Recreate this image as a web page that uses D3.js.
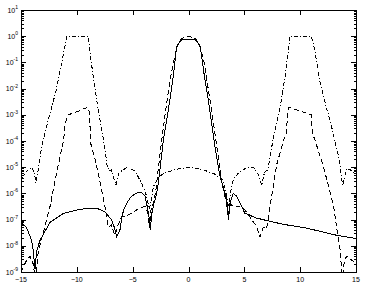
<!DOCTYPE html>
<html>
<head>
<meta charset="utf-8">
<script src="https://cdn.jsdelivr.net/npm/d3@7"></script>
<style>
body { margin: 0; background: #fff; }
svg { display: block; font-family: "Liberation Sans", Arial, sans-serif; }
</style>
</head>
<body>
<svg id="chart" width="369" height="289"></svg>
<script>
"use strict"

// tick values
let xTicks = [-15, -10, -5, 0, 5, 10, 15]
let yExponents = [1, 0, -1, -2, -3, -4, -5, -6, -7, -8, -9]

// solid curve
let solidX = [-15, -14.5, -14.05, -13.9, -13.75, -13.6, -13.3, -12.4, -11.2, -9.7, -8.2, -7.5, -6.9, -6.6, -6.43, -6.14, -6.0, -5.8, -5.5, -5.1, -4.6, -4.2, -3.9, -3.7, -3.5, -3.42, -3.3, -3.1, -2.85, -2.7, -2.26, -1.8, -1.37, -1.06, -0.7, -0.3, 0, 0.3, 0.7, 1.06, 1.4, 1.76, 2.36, 2.8, 3.2, 3.4, 3.56, 3.7, 4.0, 4.3, 4.76, 5.05, 5.45, 6, 7.45, 8.5, 10.6, 12, 13.3, 15]
let solidY = [7.9e-8, 5.0e-8, 1.6e-8, 6.3e-9, 1.26e-9, 6.3e-9, 1.6e-8, 7.9e-8, 1.74e-7, 2.5e-7, 2.7e-7, 2.0e-7, 1.0e-7, 4.5e-8, 2.2e-8, 4.0e-8, 1.0e-7, 2.5e-7, 4.5e-7, 7.9e-7, 1.05e-6, 1.07e-6, 7.9e-7, 3.2e-7, 1.0e-7, 4.0e-8, 1.6e-7, 4.0e-7, 1.0e-6, 2.5e-6, 1.0e-4, 1.6e-3, 2.8e-2, 0.4, 0.69, 0.78, 0.78, 0.78, 0.69, 0.4, 3.5e-2, 4.0e-3, 6.3e-5, 5.0e-6, 1.26e-6, 6.3e-7, 1.26e-7, 4.0e-7, 1.0e-6, 7.9e-7, 3.2e-7, 1.74e-7, 1.5e-7, 1.17e-7, 8.3e-8, 6.6e-8, 4.7e-8, 3.4e-8, 2.5e-8, 1.9e-8]

// dashed curve
let dashedX = [-15, -14.5, -14.2, -13.9, -13.7, -13.45, -13, -12.4, -11.8, -11.2, -11.05, -10.9, -10.76, -10, -9.1, -8.88, -8.75, -8.37, -7.9, -7.48, -7.18, -6.9, -6.6, -6.3, -6.0, -5.5, -4.9, -4.35, -3.9, -3.6, -3.5, -3.35, -3.1, -2.9, -2.5, -2.1, -1.7, -1.3, -1.0, -0.6, 0, 0.6, 1.0, 1.4, 1.8, 2.2, 2.6, 3.0, 3.3, 3.5, 3.6, 3.75, 4.0, 4.5, 5.0, 5.5, 6.1, 6.4, 6.7, 7.0, 7.3, 7.9, 8.5, 8.76, 8.9, 9.0, 10, 11.0, 11.1, 11.35, 12.1, 13, 13.3, 13.6, 13.75, 13.95, 14.15, 14.5, 15]
let dashedY = [1.0e-9, 2.8e-9, 4.0e-9, 2.0e-9, 4.0e-10, 6.3e-9, 3.2e-8, 3.2e-7, 6.3e-6, 1.0e-4, 4.0e-4, 8.5e-4, 1.0e-3, 1.3e-3, 1.9e-3, 1.3e-3, 7.9e-5, 2.0e-5, 2.5e-6, 3.2e-7, 5.0e-8, 6.3e-8, 2.5e-8, 6.3e-8, 1.26e-7, 1.4e-7, 2.0e-7, 2.8e-7, 3.2e-7, 1.6e-7, 5.0e-8, 2.5e-7, 5.0e-7, 1.6e-6, 5.0e-5, 1.0e-3, 1.6e-2, 0.126, 0.45, 0.83, 1.0, 0.83, 0.45, 0.1, 7.9e-3, 6.3e-4, 4.0e-5, 2.5e-6, 6.3e-7, 2.5e-7, 1.0e-7, 4.0e-7, 3.2e-7, 3.2e-7, 2.5e-7, 1.26e-7, 5.4e-8, 2.2e-8, 5.0e-8, 4.5e-8, 3.2e-7, 1.26e-5, 1.0e-4, 2.0e-4, 1.4e-3, 1.9e-3, 1.4e-3, 1.0e-3, 2.0e-4, 1.0e-4, 1.0e-5, 3.2e-7, 4.0e-8, 6.3e-9, 5.0e-10, 2.5e-9, 4.0e-9, 3.2e-9, 2.0e-9]

// dash-dot curve
let dashDotX = [-15, -14.5, -14.0, -13.8, -13.66, -13.5, -13.15, -12.5, -11.87, -11.3, -10.9, -9.0, -8.46, -8.0, -7.55, -7.3, -7.1, -6.9, -6.7, -6.5, -6.2, -5.5, -4.8, -4.2, -3.75, -3.5, -3.3, -3.15, -2.7, -2.2, -1.07, 0.1, 1.2, 2.3, 3.1, 3.4, 3.56, 3.8, 4.0, 4.5, 5.2, 5.8, 6.3, 6.55, 6.8, 7.1, 7.55, 7.9, 8.34, 8.64, 9.1, 11.0, 11.3, 11.8, 12.4, 12.96, 13.1, 13.5, 13.8, 14.15, 14.5, 15]
let dashDotY = [3.2e-6, 7.1e-6, 1.0e-5, 5.6e-6, 2.5e-6, 6.3e-6, 6.3e-5, 7.9e-4, 7.9e-3, 0.126, 1.0, 1.0, 1.6e-2, 1.0e-3, 7.9e-5, 1.26e-5, 7.1e-6, 7.9e-6, 4.0e-6, 2.1e-6, 6.3e-6, 1.0e-5, 7.1e-6, 2.5e-6, 7.9e-7, 2.5e-7, 6.3e-7, 1.8e-6, 4.0e-6, 5.9e-6, 8.3e-6, 1.0e-5, 8.3e-6, 5.6e-6, 3.2e-6, 1.0e-6, 3.2e-7, 1.26e-6, 3.2e-6, 6.3e-6, 9.5e-6, 1.0e-5, 5.0e-6, 2.0e-6, 6.3e-6, 7.9e-6, 1.0e-4, 5.0e-4, 4.0e-3, 2.8e-2, 1.0, 1.0, 0.3, 1.6e-2, 1.6e-3, 2.0e-4, 1.0e-4, 2.0e-5, 2.0e-6, 8.9e-6, 7.9e-6, 5.6e-6]

let margin = { top: 10, right: 13, bottom: 17, left: 21 }
let width = 369 - margin.left - margin.right
let height = 289 - margin.top - margin.bottom

let svg = d3.select("#chart")
let g = svg.append("g").attr("transform", `translate(${margin.left},${margin.top})`)

let x = d3.scaleLinear().domain([-15, 15]).range([0, width])
let y = d3.scaleLog().domain([1e-9, 10]).range([height, 0])

// minor ticks of the log axis
let minorTicks = []
yExponents.slice(1).forEach(function (e) {
    for (let m = 2; m <= 9; m++) minorTicks.push(m * Math.pow(10, e))
})
let majorTicks = yExponents.map(e => Math.pow(10, e))

function styleAxis(sel) {
    sel.select(".domain").remove()
    sel.selectAll("line").attr("stroke", "#000").attr("shape-rendering", "crispEdges")
    sel.selectAll("text").remove()
}

g.append("g").call(d3.axisLeft(y).tickValues(majorTicks).tickSize(-5)).call(styleAxis)
g.append("g").call(d3.axisLeft(y).tickValues(minorTicks).tickSize(-2.5)).call(styleAxis)
g.append("g").attr("transform", `translate(${width},0)`)
    .call(d3.axisRight(y).tickValues(majorTicks).tickSize(-5)).call(styleAxis)
g.append("g").attr("transform", `translate(${width},0)`)
    .call(d3.axisRight(y).tickValues(minorTicks).tickSize(-2.5)).call(styleAxis)
g.append("g").attr("transform", `translate(0,${height})`)
    .call(d3.axisBottom(x).tickValues(xTicks).tickSize(-5)).call(styleAxis)
g.append("g").call(d3.axisTop(x).tickValues(xTicks).tickSize(-5)).call(styleAxis)

// box
g.append("rect")
    .attr("width", width).attr("height", height)
    .attr("fill", "none").attr("stroke", "#000")
    .attr("shape-rendering", "crispEdges")

// y labels
let yLab = g.append("g").attr("font-size", 7).attr("fill", "#000")
yExponents.forEach(function (e) {
    let t = yLab.append("text")
        .attr("x", -3)
        .attr("y", y(Math.pow(10, e)) + 2.5)
        .attr("text-anchor", "end")
    t.append("tspan").text("10")
    t.append("tspan").attr("dy", -3.5).attr("font-size", 5).text(e < 0 ? "-" + (-e) : e)
})

// x labels
g.append("g").attr("font-size", 7)
    .selectAll("text").data(xTicks).join("text")
    .attr("x", d => x(d))
    .attr("y", height + 10)
    .attr("text-anchor", "middle")
    .text(d => d < 0 ? "\u2212" + (-d) : d)

// curves
g.append("clipPath").attr("id", "clip")
    .append("rect").attr("width", width).attr("height", height)

let line = d3.line()
    .x(d => x(d[0]))
    .y(d => y(d[1]))

let series = [
    { xs: solidX, ys: solidY, dash: null },
    { xs: dashedX, ys: dashedY, dash: "5,3" },
    { xs: dashDotX, ys: dashDotY, dash: "4,2,1,2" }
]

let plot = g.append("g").attr("clip-path", "url(#clip)")
series.forEach(function (s) {
    plot.append("path")
        .datum(d3.zip(s.xs, s.ys))
        .attr("d", line)
        .attr("fill", "none")
        .attr("stroke", "#000")
        .attr("stroke-width", 1)
        .attr("stroke-dasharray", s.dash)
        .attr("shape-rendering", "crispEdges")
})
</script>
</body>
</html>
